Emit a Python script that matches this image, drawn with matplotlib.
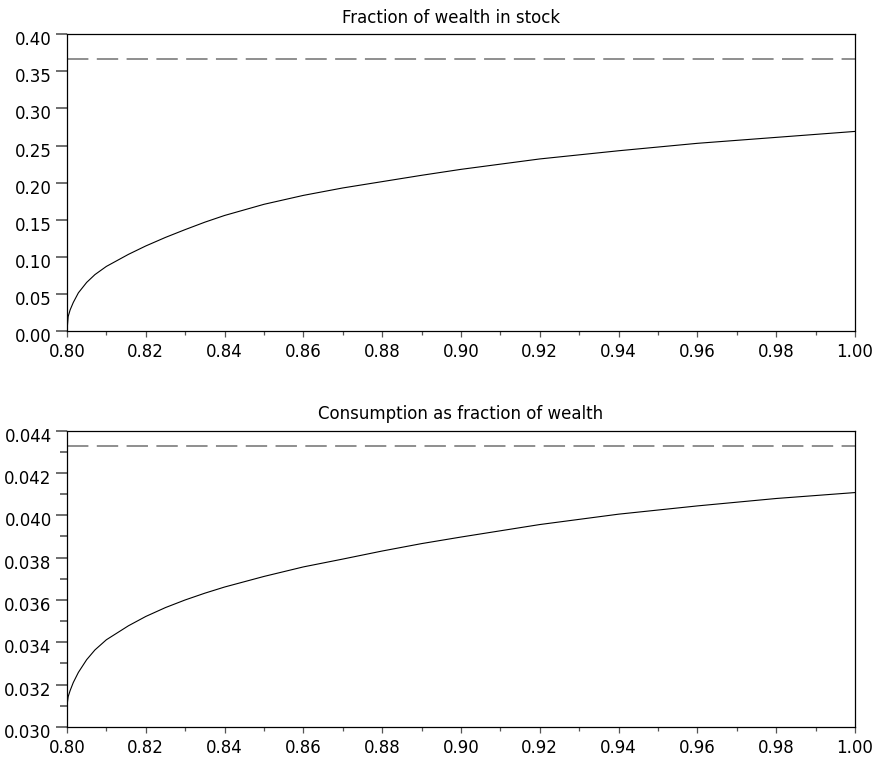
import matplotlib
matplotlib.use("Agg")
import matplotlib.pyplot as plt
from matplotlib.ticker import MultipleLocator, FormatStrFormatter
from matplotlib.transforms import ScaledTranslation

# ===================
# DATA
# ===================
wealth_x = [0.80, 0.8003, 0.8008, 0.8016, 0.8029, 0.805, 0.8071, 0.81, 0.8156,
            0.82, 0.825, 0.83, 0.835, 0.84, 0.85, 0.86, 0.87, 0.88, 0.89, 0.90,
            0.92, 0.94, 0.96, 0.98, 1.00]

stock_share = [0.000, 0.020, 0.029, 0.039, 0.052, 0.066, 0.0765, 0.0875, 0.1037,
               0.115, 0.1265, 0.137, 0.147, 0.156, 0.171, 0.183, 0.193, 0.2015,
               0.210, 0.218, 0.232, 0.243, 0.253, 0.261, 0.269]

consumption_rate = [0.03100, 0.03143, 0.03172, 0.03210, 0.03258, 0.03318, 0.03364,
                    0.03412, 0.03478, 0.03522, 0.03564, 0.03600, 0.03632, 0.03661,
                    0.03711, 0.03756, 0.03793, 0.03831, 0.03866, 0.03897, 0.03956,
                    0.04005, 0.04044, 0.04079, 0.04107]

stock_limit = 0.3668
consumption_limit = 0.04326

TITLES = ["Fraction of wealth in stock", "Consumption as fraction of wealth"]

# ===================
# STYLE
# ===================
plt.rcParams['font.family'] = ['DejaVu Sans']
TICK_GREY = "#555555"
DASH_GREY = "#707070"


def style_axes(ax, fig, y_major, y_minor, y_fmt):
    ax.set_xlim(0.80, 1.00)
    ax.xaxis.set_major_locator(MultipleLocator(0.02))
    ax.xaxis.set_minor_locator(MultipleLocator(0.01))
    ax.xaxis.set_major_formatter(FormatStrFormatter("%.2f"))
    ax.yaxis.set_major_locator(MultipleLocator(y_major))
    if y_minor:
        ax.yaxis.set_minor_locator(MultipleLocator(y_minor))
    ax.yaxis.set_major_formatter(FormatStrFormatter(y_fmt))

    for side in ax.spines:
        ax.spines[side].set_linewidth(0.9)
        ax.spines[side].set_color("black")

    ax.tick_params(axis='x', which='major', direction='out', length=4,
                   width=0.9, color=TICK_GREY, labelsize=12, pad=4.5)
    ax.tick_params(axis='x', which='minor', direction='out', length=2.6,
                   width=0.9, color=TICK_GREY)
    ax.tick_params(axis='y', which='major', direction='out', length=8,
                   width=1.2, color=TICK_GREY, labelsize=12, pad=3)
    ax.tick_params(axis='y', which='minor', direction='out', length=5,
                   width=1.2, color=TICK_GREY)

    # y labels sit a little below their ticks
    shift = ScaledTranslation(0, -4 / 100, fig.dpi_scale_trans)
    for lab in ax.get_yticklabels():
        lab.set_transform(lab.get_transform() + shift)


def main():
    fig = plt.figure(figsize=(8.8, 7.57), dpi=100)
    ax_top = fig.add_axes([0.0761, 0.5621, 0.8955, 0.3930])
    ax_bot = fig.add_axes([0.0761, 0.0396, 0.8955, 0.3917])

    # stock share
    ax_top.plot(wealth_x, stock_share, color="black", linewidth=0.8)
    ax_top.axhline(stock_limit, color=DASH_GREY, linewidth=1.1,
                   dashes=(14, 5.5))
    ax_top.set_ylim(0.0, 0.40)
    style_axes(ax_top, fig, 0.05, None, "%.2f")
    ax_top.set_title(TITLES[0], fontsize=12, pad=8, x=0.487)

    # consumption rate
    ax_bot.plot(wealth_x, consumption_rate, color="black", linewidth=0.8)
    ax_bot.axhline(consumption_limit, color=DASH_GREY, linewidth=1.1,
                   dashes=(14, 5.5))
    ax_bot.set_ylim(0.030, 0.044)
    style_axes(ax_bot, fig, 0.002, 0.001, "%.3f")
    ax_bot.set_title(TITLES[1], fontsize=12, pad=8)

    fig.savefig("out.png", dpi=100)
    plt.close(fig)


if __name__ == "__main__":
    main()
